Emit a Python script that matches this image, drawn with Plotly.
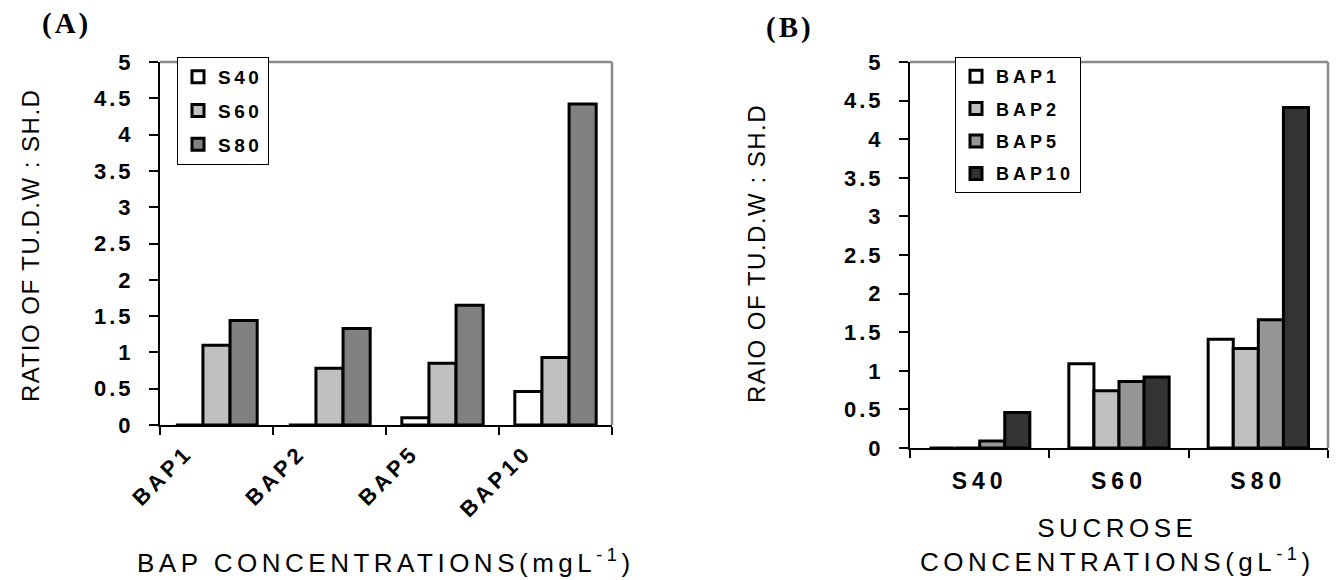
import plotly.graph_objects as go

# ---------------- data ----------------
BAP_CATS = ["BAP1", "BAP2", "BAP5", "BAP10"]
SUC_CATS = ["S40", "S60", "S80"]

# Panel A: ratio per sucrose level, across BAP concentrations
A_SERIES = ["S40", "S60", "S80"]
A_S40 = [0.0, 0.0, 0.10, 0.46]
A_S60 = [1.10, 0.78, 0.85, 0.93]
A_S80 = [1.44, 1.33, 1.65, 4.42]

# Panel B: ratio per BAP level, across sucrose concentrations
B_SERIES = ["BAP1", "BAP2", "BAP5", "BAP10"]
B_BAP1 = [0.0, 1.09, 1.41]
B_BAP2 = [0.0, 0.74, 1.29]
B_BAP5 = [0.09, 0.86, 1.66]
B_BAP10 = [0.46, 0.92, 4.41]

Y_TICKS = [0, 0.5, 1, 1.5, 2, 2.5, 3, 3.5, 4, 4.5, 5]
Y_TICK_LABELS = ["0", "0.5", "1", "1.5", "2", "2.5", "3", "3.5", "4", "4.5", "5"]

A_COLORS = ["#ffffff", "#c0c0c0", "#808080"]
B_COLORS = ["#ffffff", "#c0c0c0", "#969696", "#333333"]

W, H = 1336, 580
FONT = "Liberation Sans, Arial, sans-serif"


def fx(px):
    return px / W


def fy(py):
    return 1 - py / H


def sp(text, px):
    return "<span style='letter-spacing:%spx'>%s</span>" % (px, text)


fig = go.Figure()

a_vals = [A_S40, A_S60, A_S80]
for name, vals, col in zip(A_SERIES, a_vals, A_COLORS):
    fig.add_trace(go.Bar(
        x=BAP_CATS, y=vals, name=sp(name, 3.5), legend="legend", legendgroup="a" + name,
        marker=dict(color=col, line=dict(color="black", width=3)),
        xaxis="x", yaxis="y"))

b_vals = [B_BAP1, B_BAP2, B_BAP5, B_BAP10]
for name, vals, col in zip(B_SERIES, b_vals, B_COLORS):
    fig.add_trace(go.Bar(
        x=SUC_CATS, y=vals, name=sp(name, 4), legend="legend2", legendgroup="b" + name,
        marker=dict(color=col, line=dict(color="black", width=3)),
        xaxis="x2", yaxis="y2"))

yaxis_common = dict(
    range=[0, 5], tickmode="array", tickvals=Y_TICKS,
    ticktext=[sp(t, 3) for t in Y_TICK_LABELS],
    ticks="outside", ticklen=9, tickwidth=2, tickcolor="black",
    showline=True, linecolor="black", linewidth=2,
    showgrid=False, zeroline=False, automargin=False,
    tickfont=dict(family=FONT, size=22, color="black", weight="bold"),
    ticklabelstandoff=11, fixedrange=True,
)

fig.update_layout(
    template="none",
    width=W, height=H,
    margin=dict(l=0, r=0, t=0, b=0),
    paper_bgcolor="white", plot_bgcolor="white",
    barmode="group",
    showlegend=True,
    xaxis=dict(
        domain=[fx(160), fx(612)], anchor="y", type="category",
        tickmode="array", tickvals=BAP_CATS, ticktext=[sp(c, 4) for c in BAP_CATS],
        tickson="boundaries", ticks="outside", ticklen=8, tickwidth=2, tickcolor="black",
        showline=True, linecolor="black", linewidth=2, showgrid=False, zeroline=False,
        tickangle=-45, automargin=False,
        tickfont=dict(family=FONT, size=22, color="black", weight="bold"),
        ticklabelstandoff=4, ticklabelshift=-30, fixedrange=True,
    ),
    yaxis=dict(domain=[fy(425), fy(62)], anchor="x", **yaxis_common),
    xaxis2=dict(
        domain=[fx(910), fx(1328)], anchor="y2", type="category",
        tickmode="array", tickvals=SUC_CATS, ticktext=[sp(c, 5) for c in SUC_CATS],
        tickson="boundaries", ticks="outside", ticklen=8, tickwidth=2, tickcolor="black",
        showline=True, linecolor="black", linewidth=2, showgrid=False, zeroline=False,
        tickangle=0, automargin=False,
        tickfont=dict(family=FONT, size=23, color="black", weight="bold"),
        ticklabelstandoff=11, fixedrange=True,
    ),
    yaxis2=dict(domain=[fy(448), fy(62)], anchor="x2", **yaxis_common),
    bargap=0.28,
    legend=dict(
        x=fx(177), y=fy(57), xanchor="left", yanchor="top",
        bgcolor="white", bordercolor="black", borderwidth=1,
        font=dict(family=FONT, size=19, color="black", weight="bold"),
        tracegroupgap=6, traceorder="grouped",
    ),
    legend2=dict(
        x=fx(955), y=fy(57), xanchor="left", yanchor="top",
        bgcolor="white", bordercolor="black", borderwidth=1,
        font=dict(family=FONT, size=18, color="black", weight="bold"),
        tracegroupgap=6, traceorder="grouped",
    ),
)

# plot-area frame (gray top/right borders)
for xr, yr in (("x domain", "y domain"), ("x2 domain", "y2 domain")):
    fig.add_shape(type="line", xref=xr, yref=yr, x0=0, x1=1, y0=1, y1=1,
                  line=dict(color="#8a8a8a", width=2.5))
    fig.add_shape(type="line", xref=xr, yref=yr, x0=1, x1=1, y0=0, y1=1,
                  line=dict(color="#8a8a8a", width=2.5))

SERIF = "Liberation Serif, Times New Roman, serif"
ann = [
    dict(text=sp("<b>(A)</b>", 3), x=fx(66), y=fy(23), font=dict(family=SERIF, size=29, color="black")),
    dict(text=sp("<b>(B)</b>", 3), x=fx(790), y=fy(27), font=dict(family=SERIF, size=29, color="black")),
    dict(text=sp("RATIO OF TU.D.W : SH.D", 1.5), x=fx(30), y=fy(246), textangle=-90,
         font=dict(family=FONT, size=24, color="black")),
    dict(text=sp("RAIO OF TU.D.W : SH.D", 1.5), x=fx(757), y=fy(253), textangle=-90,
         font=dict(family=FONT, size=24, color="black")),
    dict(text=sp("BAP CONCENTRATIONS(mgL<sup>-1</sup>)", 4.5), x=fx(386), y=fy(561),
         font=dict(family=FONT, size=26, color="black")),
    dict(text=sp("SUCROSE", 4.5) + "<br>" + sp("CONCENTRATIONS(gL<sup>-1</sup>)", 4.5),
         x=fx(1117), y=fy(545), font=dict(family=FONT, size=26, color="black")),
]
for a in ann:
    fig.add_annotation(xref="paper", yref="paper", xanchor="center", yanchor="middle",
                       showarrow=False, **a)

fig.write_html(
    "out.html",
    config={"displayModeBar": False},
    post_script="document.body.style.margin='0';document.body.style.overflow='hidden';",
)
